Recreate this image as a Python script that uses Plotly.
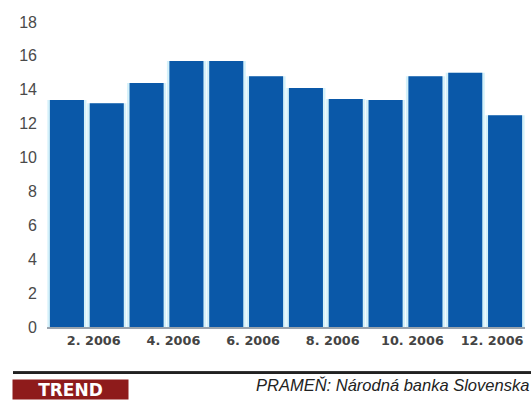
import plotly.graph_objects as go

months = ["1. 2006", "2. 2006", "3. 2006", "4. 2006", "5. 2006", "6. 2006",
          "7. 2006", "8. 2006", "9. 2006", "10. 2006", "11. 2006", "12. 2006"]
values = [13.4, 13.2, 14.4, 15.7, 15.7, 14.8, 14.1, 13.45, 13.4, 14.8, 15.0, 12.5]
x_tick_labels = ["2. 2006", "4. 2006", "6. 2006", "8. 2006", "10. 2006", "12. 2006"]
y_ticks = [0, 2, 4, 6, 8, 10, 12, 14, 16, 18]
grid_values = [2, 4, 6, 8, 10, 12, 14, 16]
source_text = "PRAMEŇ: Národná banka Slovenska"
logo_text = "TREND"

BLUE = "#0a58a8"
CYAN = "#d4f1fa"

fig = go.Figure()
fig.add_trace(go.Bar(x=months, y=values, width=0.98, marker=dict(color=CYAN, line=dict(width=0)),
                     hoverinfo="skip", showlegend=False))
fig.add_trace(go.Bar(x=months, y=values, width=0.855, marker=dict(color=BLUE, line=dict(width=0)),
                     showlegend=False))

for v in grid_values:
    fig.add_shape(type="line", xref="paper", yref="y", x0=0, x1=1.004, y0=v, y1=v,
                  line=dict(color="#a9aeb5", width=2), layer="below")

fig.update_layout(
    width=531, height=401,
    margin=dict(l=47, r=6, t=22, b=74),
    paper_bgcolor="white", plot_bgcolor="white",
    barmode="overlay",
    xaxis=dict(
        type="category", categoryorder="array", categoryarray=months,
        tickmode="array", tickvals=x_tick_labels, ticktext=x_tick_labels,
        ticks="", showgrid=False, showline=True, linecolor="#9aa3ad", linewidth=1.5,
        range=[-0.5, 11.5], ticklabelshift=-13, ticklabelstandoff=1,
        tickfont=dict(family="DejaVu Sans", size=12.8, color="#444444", weight="bold"),
    ),
    yaxis=dict(
        range=[0, 18], tickvals=y_ticks, showgrid=False, zeroline=False, ticks="",
        ticklabelstandoff=9,
        tickfont=dict(family="Liberation Sans", size=16, color="#4a4a4a"),
    ),
    shapes=[
        dict(type="line", xref="paper", yref="paper", x0=-0.0711, x1=1.0126, y0=-0.1503, y1=-0.1503,
             line=dict(color="#222222", width=2)),
    ],
    annotations=[
        dict(text=logo_text, xref="paper", yref="paper", x=0.0492, y=-0.2059,
             xanchor="center", yanchor="middle", showarrow=False,
             width=115, height=19, borderpad=0, bgcolor="#8e1b1b",
             font=dict(family="DejaVu Sans", size=17, color="white", weight="bold")),
        dict(text=source_text, xref="paper", yref="paper", x=1.0126, y=-0.1895,
             xanchor="right", yanchor="middle", showarrow=False,
             font=dict(family="Liberation Sans", size=16.5, color="#222222", style="italic")),
    ],
)

fig.write_html("out.html")
